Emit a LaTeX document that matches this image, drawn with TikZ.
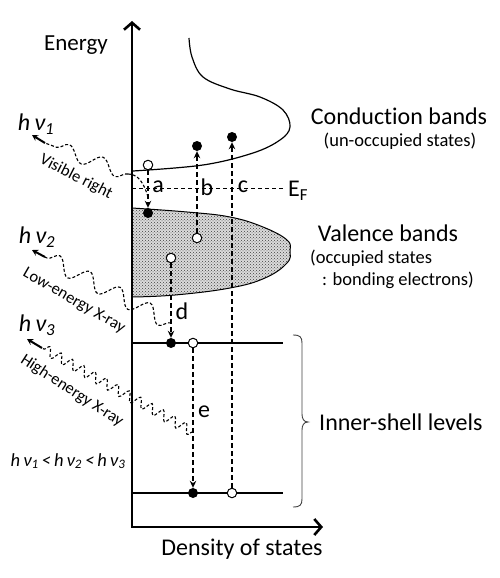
\documentclass[tikz,border=0pt]{standalone}
\usepackage{fontspec}
\setmainfont{Carlito}[Ligatures=NoCommon]
\usetikzlibrary{arrows.meta,decorations.pathmorphing,patterns}
\begin{document}
\begin{tikzpicture}[x=1pt,y=-1pt,
  axis/.style={line width=2.6pt,{Straight Barb[length=7pt,width=16pt]}-{Straight Barb[length=7pt,width=16pt]}},
  band/.style={line width=1.2pt},
  level/.style={line width=1.5pt},
  elec/.style={circle,fill=black,inner sep=0pt,minimum size=10pt},
  hole/.style={circle,draw=black,line width=1pt,fill=white,inner sep=0pt,minimum size=9.5pt},
  trans/.style={line width=1.2pt,dash pattern=on 5pt off 3pt,-{Stealth[length=7pt,width=6.5pt]}},
  wavebase/.style={line width=1.1pt,dash pattern=on 3pt off 2pt},
  parrow/.style={line width=2pt,-{Stealth[length=6pt,width=6.5pt]}},
  big/.style={font=\fontsize{24}{28}\selectfont,inner sep=0pt},
  mid/.style={font=\fontsize{18.5}{22}\selectfont,inner sep=0pt},
  rot/.style={font=\fontsize{16.5}{19}\selectfont,inner sep=0pt},
  hnu/.style={font=\fontsize{24}{28}\selectfont\itshape,inner sep=0pt}
]
\useasboundingbox (0,0) rectangle (500,578);

% valence band
\path[preaction={fill=gray!28},pattern=crosshatch dots,pattern color=black!75]
  plot[smooth,tension=0.7] coordinates {(132,208) (187,212) (230,217) (263,227) (287,240) (290,251) (287,263) (265,278) (230,288) (175,295) (132,297)} -- cycle;
\draw[line width=1pt] plot[smooth,tension=0.7] coordinates {(132,208) (187,212) (230,217) (263,227) (287,240) (290,251) (287,263) (265,278) (230,288) (175,295) (132,297)};

% conduction band
\draw[band] plot[smooth,tension=0.6] coordinates {(189,38) (192,57) (203,77) (230,89) (260,97) (283,110) (290,127) (280,140) (253,153) (203,165) (133,171)};

% Fermi level
\coordinate (ef0) at (132,188);
\coordinate (ef1) at (284,188);
\draw[line width=1pt,dash pattern=on 4pt off 3pt] (ef0) -- (ef1);
\node[big,anchor=west] (EF) at (288,191) {E\textsubscript{F}};

% inner-shell levels
\coordinate (l1a) at (132,343); \coordinate (l1b) at (283,343);
\coordinate (l2a) at (132,493); \coordinate (l2b) at (283,493);
\draw[level] (l1a) -- (l1b);
\draw[level] (l2a) -- (l2b);

% brace
\coordinate (br1) at (293,335); \coordinate (br2) at (293,507); \coordinate (brt) at (308,422);
\draw[line width=0.9pt,black!75] (br1) .. controls (300,335) and (302,337) .. (302,343) -- (302,414)
  .. controls (302,419) and (304,422) .. (brt) .. controls (304,422) and (302,425) .. (302,430)
  -- (302,499) .. controls (302,505) and (300,507) .. (br2);

% axes
\coordinate (ytip) at (132,21);
\coordinate (O) at (132,527);
\coordinate (xtip) at (323,527);
\draw[axis] (ytip) -- (O) -- (xtip);

% states
\node[hole] (a1) at (148,165) {};
\node[elec] (a2) at (148,213) {};
\node[hole] (b1) at (197,238) {};
\node[elec] (b2) at (197,146) {};
\node[hole] (c1) at (232,493) {};
\node[elec] (c2) at (232,137) {};
\node[hole] (d1) at (171,258) {};
\node[elec] (d2) at (171,343) {};
\node[hole] (e1) at (193,343) {};
\node[elec] (e2) at (193,493) {};

\draw[trans] (a1) -- (a2);
\draw[trans] (b1) -- (b2);
\draw[trans] (c1) -- (c2);
\draw[trans] (d1) -- (d2);
\draw[trans] (e1) -- (e2);

% transition labels
\node[big] (la) at (158,187) {a};
\node[big] (lb) at (207,187) {b};
\node[big] (lc) at (243,187) {c};
\node[big] (ld) at (182,311) {d};
\node[big] (le) at (204,412) {e};

% photons
\coordinate (w1a) at (148,197); \coordinate (w1b) at (128,174);
\coordinate (w1c) at (45,143); \coordinate (w1d) at (32,135);
\draw[wavebase] (w1a) .. controls (144,183) and (138,174) .. (w1b);
\draw[wavebase,decorate,decoration={snake,segment length=36pt,amplitude=7pt}] (w1b) -- (w1c);
\draw[parrow] (w1c) -- (w1d);

\coordinate (w2a) at (171,323); \coordinate (w2c) at (45,257); \coordinate (w2d) at (32,250);
\draw[wavebase,decorate,decoration={snake,segment length=34pt,amplitude=8pt}] (w2a) -- (w2c);
\draw[parrow] (w2c) -- (w2d);

\coordinate (w3a) at (193,432); \coordinate (w3c) at (42,348); \coordinate (w3d) at (27,339);
\draw[wavebase,decorate,decoration={snake,segment length=13pt,amplitude=5pt}] (w3a) -- (w3c);
\draw[parrow] (w3c) -- (w3d);

% photon labels
\node[hnu] (h1) at (36,124) {h\,ν\textsubscript{1}};
\node[hnu] (h2) at (37,237) {h\,ν\textsubscript{2}};
\node[hnu] (h3) at (37,325) {h\,ν\textsubscript{3}};
\node[rot,rotate=-27] (vis) at (76,177) {Visible right};
\node[rot,rotate=-30] (low) at (74,301) {Low-energy X-ray};
\node[rot,rotate=-33] (high) at (72,391) {High-energy X-ray};
\node[font=\fontsize{18.5}{22}\selectfont\itshape,inner sep=0pt] (ineq) at (68,461) {h\,ν\textsubscript{1}\,<\,h\,ν\textsubscript{2}\,<\,h\,ν\textsubscript{3}};

% axis labels
\node[font=\fontsize{23}{27}\selectfont,inner sep=0pt] (energy) at (76,45) {Energy};
\node[big] (dos) at (242,549) {Density of states};

% band labels
\node[big] (cb) at (399,116) {Conduction bands};
\node[mid] (cbs) at (400,141) {(un-occupied states)};
\node[big] (vb) at (388,233) {Valence bands};
\node[mid,anchor=west] (vbs1) at (310,258) {(occupied states};
\node[mid,anchor=west] (vbs2) at (322,280) {: bonding electrons)};
\node[big,anchor=west] (isl) at (319,422) {Inner-shell levels};
\end{tikzpicture}
\end{document}
